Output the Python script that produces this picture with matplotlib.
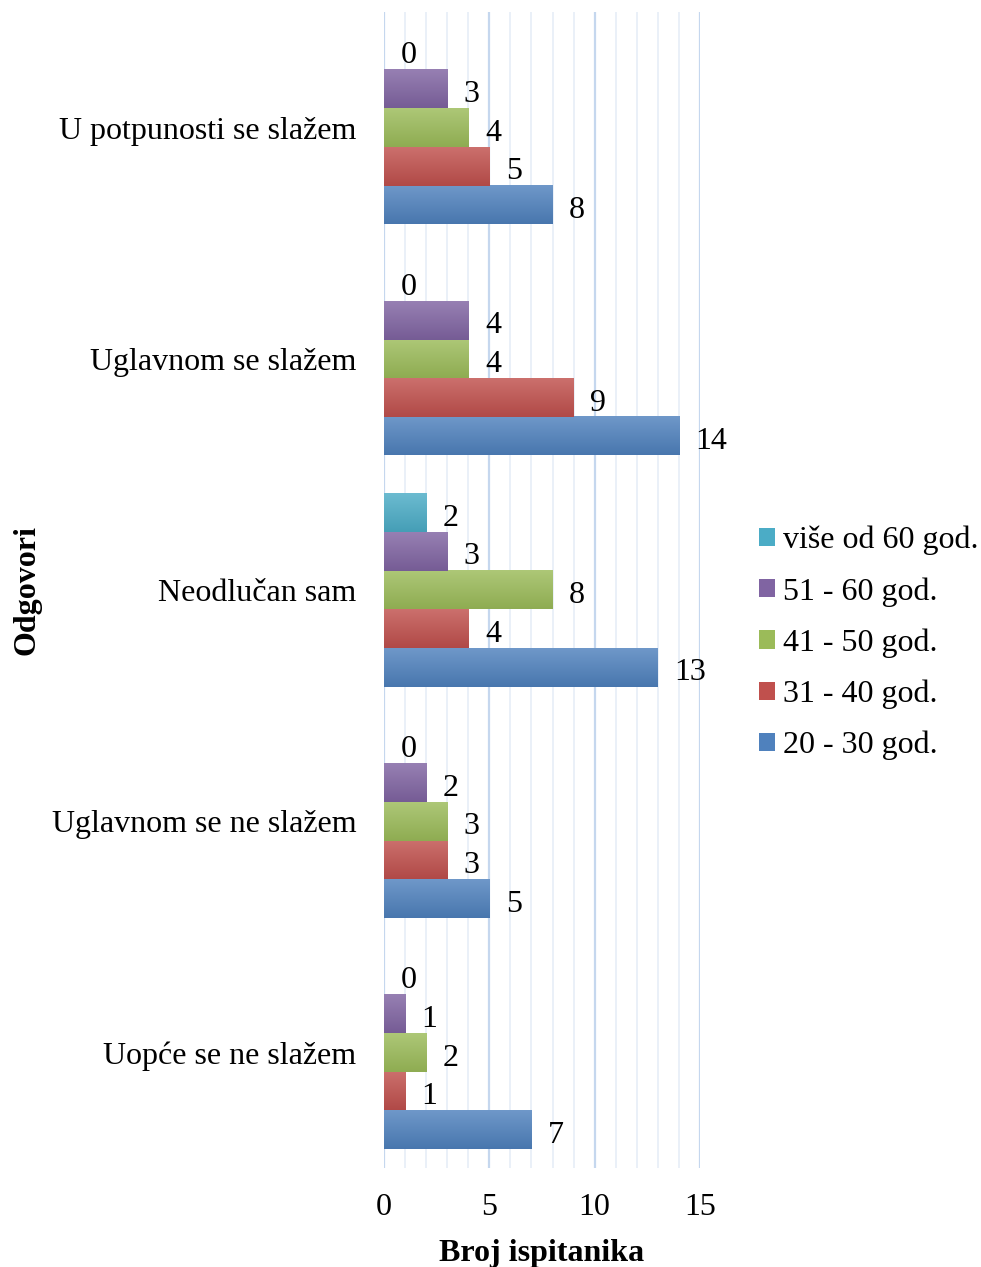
"""Grouped horizontal bar chart: answers by age group."""
import matplotlib.pyplot as plt
import matplotlib.colors as mcolors
import numpy as np
from matplotlib.patches import Patch

plt.rcParams["font.family"] = ["Liberation Serif", "DejaVu Serif"]

categories = [
    "U potpunosti se slažem",
    "Uglavnom se slažem",
    "Neodlučan sam",
    "Uglavnom se ne slažem",
    "Uopće se ne slažem",
]
series_names = ["20 - 30 god.", "31 - 40 god.", "41 - 50 god.", "51 - 60 god.", "više od 60 god."]
values_20_30 = [8, 14, 13, 5, 7]
values_31_40 = [5, 9, 4, 3, 1]
values_41_50 = [4, 4, 8, 3, 2]
values_51_60 = [3, 4, 3, 2, 1]
values_60_plus = [0, 0, 2, 0, 0]
series_values = [values_20_30, values_31_40, values_41_50, values_51_60, values_60_plus]
series_colors = ["#4F81BD", "#C0504D", "#9BBB59", "#8064A2", "#4BACC6"]

FS = 23


def shade(color, amount):
    rgb = np.array(mcolors.to_rgb(color))
    if amount > 0:
        return rgb + (1 - rgb) * amount
    return rgb * (1 + amount)


fig = plt.figure(figsize=(9.81, 12.67), dpi=100)
ax = fig.add_axes([0.3914, 0.0781, 0.3222, 0.9124])

n = len(series_values)
h = 0.167
centers = np.arange(len(categories))[::-1]

for i, (vals, col) in enumerate(zip(series_values, series_colors)):
    ys = centers - 2 * h + i * h
    bars = ax.barh(ys, vals, height=h, color="none", edgecolor="none", zorder=3)
    top = shade(col, 0.18)
    bot = shade(col, -0.08)
    grad = np.linspace(0, 1, 64)[:, None]
    img = top[None, None, :] * (1 - grad[..., None]) + bot[None, None, :] * grad[..., None]
    for b, v in zip(bars, vals):
        if v <= 0:
            continue
        x0, y0 = b.get_x(), b.get_y()
        ax.imshow(img, extent=(x0, x0 + b.get_width(), y0, y0 + b.get_height()),
                  aspect="auto", origin="upper", zorder=3, interpolation="bilinear")

    # value labels sit just right of each bar end
    for y, v in zip(ys, vals):
        ax.annotate(str(v), (v, y), xytext=(12, -4), textcoords="offset points",
                    ha="left", va="center", fontsize=FS, zorder=4)

ax.set_xlim(0, 15)
ax.set_ylim(-0.5, len(categories) - 0.5)
ax.set_xticks([0, 5, 10, 15])
ax.set_xticks(np.arange(0, 16, 1), minor=True)
ax.set_yticks(centers)
ax.set_yticklabels(categories)
ax.tick_params(axis="both", length=0, labelsize=FS)
ax.tick_params(axis="y", pad=20)
ax.tick_params(axis="x", pad=18)
ax.tick_params(axis="x", which="minor", length=0)
ax.grid(axis="x", which="major", color="#c5d7ee", linewidth=1.6, zorder=0)
ax.grid(axis="x", which="minor", color="#e6edf7", linewidth=1.2, zorder=0)
ax.set_axisbelow(True)
for s in ax.spines.values():
    s.set_visible(False)

ax.set_xlabel("Broj ispitanika", fontsize=FS, fontweight="bold", labelpad=12)
fig.text(0.028, 0.534, "Odgovori", rotation=90, ha="center", va="center",
         fontsize=FS, fontweight="bold")

handles = [Patch(facecolor=series_colors[i], label=series_names[i]) for i in range(n - 1, -1, -1)]
fig.legend(handles=handles, loc="center left", bbox_to_anchor=(0.774, 0.4925),
           frameon=False, fontsize=FS, handlelength=0.5, handleheight=0.5,
           handletextpad=0.25, labelspacing=0.68, borderpad=0, borderaxespad=0)

fig.savefig("out.png", dpi=100)
